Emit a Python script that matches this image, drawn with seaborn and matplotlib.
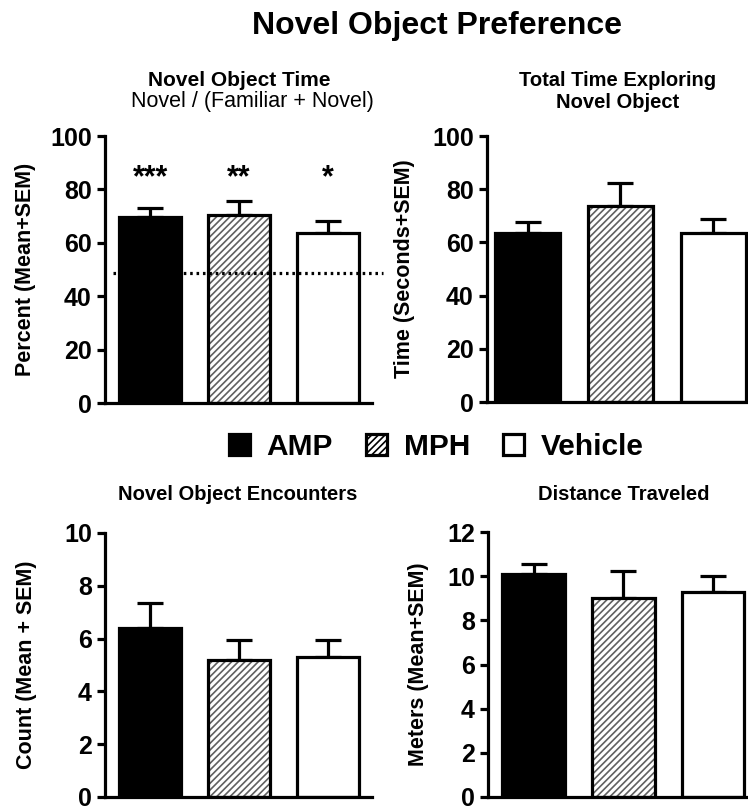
import numpy as np
import pandas as pd
import seaborn as sns
import matplotlib.pyplot as plt
from matplotlib.patches import Patch, Rectangle

sns.set_style('ticks', {'axes.edgecolor': 'black', 'text.color': 'black',
                        'xtick.color': 'black', 'ytick.color': 'black',
                        'axes.labelcolor': 'black'})
plt.rcParams['font.family'] = ['Liberation Sans', 'DejaVu Sans']
plt.rcParams['font.weight'] = 'bold'
plt.rcParams['hatch.linewidth'] = 1.2

# groups and bar fills
groups = ['AMP', 'MPH', 'Vehicle']
face_colors = ['black', 'white', 'white']

# novel object preference (percent)
pref_mean = [69.6, 70.4, 63.8]
pref_sem = [3.5, 5.4, 4.2]
pref_stars = ['***', '**', '*']
chance_level = 48.6

# total time exploring novel object (seconds)
time_mean = [63.6, 73.7, 63.6]
time_sem = [3.9, 8.5, 5.2]

# novel object encounters (count)
enc_mean = [6.4, 5.2, 5.3]
enc_sem = [0.95, 0.75, 0.65]

# distance traveled (meters)
dist_mean = [10.1, 9.0, 9.3]
dist_sem = [0.45, 1.25, 0.7]

W, H = 748, 809
LW = 2.3
fig = plt.figure(figsize=(W / 100, H / 100), dpi=100)


def px_axes(x0, y0, x1, y1):
    return fig.add_axes([x0 / W, 1 - y1 / H, (x1 - x0) / W, (y1 - y0) / H])


def draw_panel(ax, means, sems, ymax, step, ylabel, xlim, label_px):
    df = pd.DataFrame({'group': groups, 'value': means})
    sns.barplot(data=df, x='group', y='value', hue='group', palette=face_colors,
                saturation=1, width=0.7, edgecolor='black', linewidth=LW,
                legend=False, errorbar=None, ax=ax, zorder=3)
    # MPH bar: grey hatching with black outline on top
    p = ax.patches[1]
    p.set_hatch('/////')
    p.set_edgecolor('#606060')
    p.set_linewidth(0)
    ax.add_patch(Rectangle((p.get_x(), p.get_y()), p.get_width(), p.get_height(),
                           fill=False, edgecolor='black', lw=LW, zorder=4))
    ax.errorbar(range(len(groups)), means, yerr=[np.zeros(len(sems)), sems],
                fmt='none', ecolor='black', elinewidth=LW, capsize=9.5,
                capthick=LW, zorder=2)
    ax.set_xlim(*xlim)
    ax.set_ylim(0, ymax)
    ax.set_yticks(np.arange(0, ymax + step / 2, step))
    ax.set_xticks([])
    ax.set_xlabel('')
    ax.set_ylabel(ylabel, fontsize=15.5, fontweight='bold')
    bbox = ax.get_position()
    ax.yaxis.set_label_coords(label_px / (bbox.width * W), 0.5)
    ax.tick_params(axis='y', labelsize=18, width=LW, length=6, direction='out')
    for lab in ax.get_yticklabels():
        lab.set_fontweight('bold')
    sns.despine(ax=ax)
    for s in ['left', 'bottom']:
        ax.spines[s].set_linewidth(LW)
        ax.spines[s].set_zorder(5)
    ax.patch.set_alpha(0)


ax1 = px_axes(105, 136, 372, 403)
draw_panel(ax1, pref_mean, pref_sem, 100, 20, 'Percent (Mean+SEM)', (-0.51, 2.5), -69)
ax1.axhline(chance_level, xmin=0.03, xmax=1.04, color='black', ls=(0, (0.8, 1.2)),
            lw=2.3, zorder=6, clip_on=False)
for i, s in enumerate(pref_stars):
    ax1.text(i, 81, s, ha='center', va='baseline', fontsize=22, fontweight='bold')

ax2 = px_axes(487, 136, 765, 402)
draw_panel(ax2, time_mean, time_sem, 100, 20, 'Time (Seconds+SEM)', (-0.44, 2.56), -72)

ax3 = px_axes(105, 533, 372, 797)
draw_panel(ax3, enc_mean, enc_sem, 10, 2, 'Count (Mean + SEM)', (-0.51, 2.5), -68)

ax4 = px_axes(488, 532, 765, 797)
draw_panel(ax4, dist_mean, dist_sem, 12, 2, 'Meters (Mean+SEM)', (-0.51, 2.58), -59)

# titles
def ftext(x, y, s, **kw):
    fig.text(x / W, 1 - y / H, s, ha='center', va='center', **kw)

ftext(437, 26, 'Novel Object Preference', fontsize=23, fontweight='bold')
ftext(239, 80, 'Novel Object Time', fontsize=15, fontweight='bold')
ftext(252, 102, 'Novel / (Familiar + Novel)', fontsize=15.5, fontweight='normal')
ftext(618, 81, 'Total Time Exploring', fontsize=14.5, fontweight='bold')
ftext(618, 102, 'Novel Object', fontsize=14.5, fontweight='bold')
ftext(238, 495, 'Novel Object Encounters', fontsize=14.5, fontweight='bold')
ftext(624, 495, 'Distance Traveled', fontsize=14.5, fontweight='bold')

# legend
handles = [Patch(facecolor=c, edgecolor='black', lw=LW, hatch=h)
           for c, h in zip(face_colors, ['', '/////', ''])]
fig.legend(handles, groups, loc='center', bbox_to_anchor=(436 / W, 1 - 447 / H),
           ncol=3, frameon=False, handlelength=0.72, handleheight=0.72,
           handletextpad=0.55, columnspacing=1.1, prop={'weight': 'bold', 'size': 21.5})

fig.savefig('out.png', dpi=100)
